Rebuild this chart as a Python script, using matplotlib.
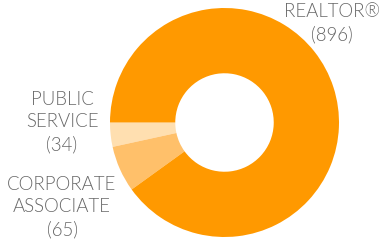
import matplotlib
matplotlib.use("Agg")
import matplotlib.pyplot as plt

# member counts by category
categories = ["PUBLIC\nSERVICE", "CORPORATE\nASSOCIATE", "REALTOR®"]
counts = [34, 65, 896]
colors = ["#FFDFB0", "#FFC06A", "#FF9900"]

W, H = 380, 244
fig = plt.figure(figsize=(W / 100, H / 100), dpi=100)

# donut centred at (224.5, 122.5) px, outer radius 114.5 px
cx, cy, r = 224.5, 122.5, 114.5
ax = fig.add_axes([(cx - r) / W, (H - cy - r) / H, 2 * r / W, 2 * r / H])
ax.pie(counts, colors=colors, startangle=180, counterclock=True, radius=1,
       wedgeprops=dict(width=0.57, linewidth=0))
ax.set_xlim(-1, 1)
ax.set_ylim(-1, 1)
ax.set_aspect("equal")
ax.axis("off")

# labels (pixel positions of the centre of each text block)
label_pos = [(62, 122), (62, 207), (332, 23)]
for (px, py), cat, n in zip(label_pos, categories, counts):
    fig.text(px / W, 1 - py / H, f"{cat}\n({n})", ha="center", va="center",
             fontsize=13.4, family="Lato", fontweight=300, color="#666666",
             linespacing=1.38)

fig.savefig("out.png", dpi=100)
